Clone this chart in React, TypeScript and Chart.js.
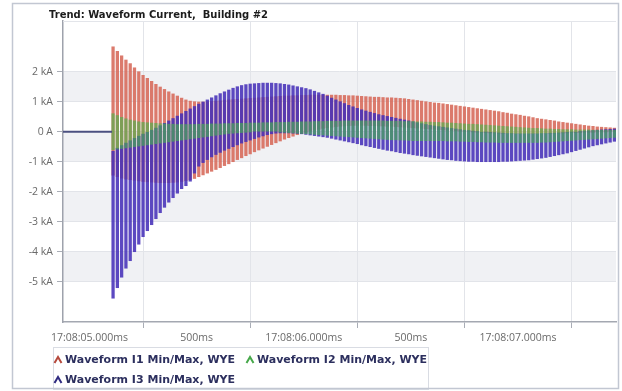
import { useEffect, useRef } from "react";
import { Chart, registerables } from "chart.js";

Chart.register(...registerables);

const titleText = "Trend: Waveform Current,  Building #2";
const seriesNames = ["Waveform I1 Min/Max, WYE", "Waveform I2 Min/Max, WYE", "Waveform I3 Min/Max, WYE"];
const seriesColors = ["rgba(214,104,88,0.88)", "rgba(70,182,74,0.62)", "rgba(70,48,184,0.88)"];
const legendMarkColors = ["#b5493c", "#46a84a", "#2f2a80"];
// drawing order: lower = on top
const seriesOrder = [3, 1, 2];

// sampling of the min/max buckets (seconds after 17:08:00)
const sampleStart = 5.11;
const sampleStep = 0.02;

// pre-fault flat line (seconds, kA)
const preFaultTimes = [4.8763, 5.105];
const preFaultValues = [0, 0];

// I1 min/max (kA)
const i1Max = [
  2.83, 2.68, 2.53, 2.39, 2.27, 2.13, 2.0, 1.88, 1.78, 1.68,
  1.58, 1.49, 1.41, 1.33, 1.26, 1.19, 1.12, 1.06, 1.02, 1.0,
  0.99, 0.99, 1.0, 1.01, 1.02, 1.03, 1.05, 1.06, 1.07, 1.08,
  1.09, 1.1, 1.11, 1.12, 1.13, 1.14, 1.15, 1.16, 1.17, 1.18,
  1.19, 1.19, 1.2, 1.2, 1.21, 1.21, 1.22, 1.22, 1.22, 1.22,
  1.22, 1.22, 1.22, 1.21, 1.21, 1.2, 1.2, 1.19, 1.18, 1.17,
  1.16, 1.15, 1.15, 1.14, 1.13, 1.13, 1.12, 1.11, 1.1, 1.08,
  1.06, 1.04, 1.02, 1.0, 0.98, 0.96, 0.95, 0.93, 0.91, 0.89,
  0.87, 0.85, 0.83, 0.81, 0.79, 0.77, 0.75, 0.73, 0.71, 0.69,
  0.67, 0.64, 0.62, 0.59, 0.57, 0.55, 0.52, 0.5, 0.47, 0.44,
  0.42, 0.4, 0.38, 0.36, 0.33, 0.31, 0.29, 0.27, 0.25, 0.23,
  0.21, 0.19, 0.18, 0.16, 0.15, 0.14, 0.13, 0.12,
];
const i1Min = [
  -1.45, -1.5, -1.55, -1.58, -1.6, -1.62, -1.64, -1.66, -1.67, -1.68,
  -1.69, -1.7, -1.7, -1.7, -1.69, -1.68, -1.66, -1.63, -1.6, -1.56,
  -1.5, -1.44, -1.38, -1.32, -1.26, -1.2, -1.13, -1.07, -1.0, -0.93,
  -0.87, -0.8, -0.74, -0.67, -0.61, -0.55, -0.49, -0.43, -0.37, -0.31,
  -0.25, -0.2, -0.15, -0.1, -0.06, -0.02, 0.02, 0.05, 0.08, 0.11,
  0.13, 0.15, 0.17, 0.18, 0.19, 0.2, 0.21, 0.21, 0.21, 0.21,
  0.2, 0.2, 0.19, 0.19, 0.18, 0.18, 0.17, 0.16, 0.15, 0.14,
  0.13, 0.12, 0.11, 0.1, 0.09, 0.08, 0.07, 0.06, 0.05, 0.04,
  0.03, 0.02, 0.01, 0.0, -0.01, -0.02, -0.03, -0.03, -0.04, -0.04,
  -0.05, -0.05, -0.05, -0.06, -0.06, -0.06, -0.06, -0.06, -0.06, -0.06,
  -0.05, -0.05, -0.05, -0.05, -0.04, -0.04, -0.04, -0.03, -0.03, -0.03,
  -0.02, -0.02, -0.02, -0.01, -0.01, -0.01, 0.0, 0.0,
];

// I2 min/max (kA)
const i2Max = [
  0.6, 0.54, 0.48, 0.43, 0.39, 0.36, 0.33, 0.31, 0.3, 0.29,
  0.28, 0.27, 0.26, 0.25, 0.25, 0.24, 0.24, 0.24, 0.24, 0.24,
  0.25, 0.25, 0.25, 0.26, 0.26, 0.26, 0.27, 0.27, 0.27, 0.28,
  0.28, 0.28, 0.29, 0.29, 0.29, 0.3, 0.3, 0.3, 0.31, 0.31,
  0.31, 0.32, 0.32, 0.32, 0.33, 0.33, 0.33, 0.34, 0.34, 0.34,
  0.35, 0.35, 0.35, 0.35, 0.36, 0.36, 0.36, 0.36, 0.36, 0.36,
  0.36, 0.36, 0.36, 0.36, 0.35, 0.35, 0.35, 0.35, 0.34, 0.34,
  0.34, 0.33, 0.33, 0.32, 0.32, 0.31, 0.31, 0.3, 0.29, 0.29,
  0.28, 0.27, 0.26, 0.25, 0.25, 0.24, 0.23, 0.22, 0.21, 0.2,
  0.19, 0.18, 0.17, 0.16, 0.15, 0.14, 0.13, 0.12, 0.11, 0.11,
  0.1, 0.09, 0.09, 0.08, 0.08, 0.07, 0.07, 0.07, 0.06, 0.06,
  0.06, 0.06, 0.05, 0.05, 0.05, 0.05, 0.05, 0.05,
];
const i2Min = [
  -0.6, -0.58, -0.56, -0.54, -0.52, -0.5, -0.48, -0.46, -0.44, -0.42,
  -0.4, -0.38, -0.36, -0.34, -0.32, -0.3, -0.28, -0.26, -0.24, -0.22,
  -0.2, -0.18, -0.16, -0.14, -0.12, -0.1, -0.08, -0.06, -0.05, -0.04,
  -0.03, -0.02, -0.01, 0.0, 0.0, 0.0, 0.0, 0.0, 0.0, -0.01,
  -0.02, -0.03, -0.04, -0.05, -0.06, -0.07, -0.08, -0.09, -0.1, -0.11,
  -0.12, -0.13, -0.14, -0.15, -0.16, -0.17, -0.18, -0.19, -0.2, -0.21,
  -0.22, -0.23, -0.24, -0.25, -0.26, -0.27, -0.27, -0.28, -0.28, -0.29,
  -0.3, -0.3, -0.3, -0.3, -0.3, -0.3, -0.3, -0.3, -0.31, -0.31,
  -0.31, -0.32, -0.32, -0.33, -0.33, -0.34, -0.34, -0.35, -0.35, -0.35,
  -0.36, -0.36, -0.36, -0.36, -0.36, -0.36, -0.36, -0.36, -0.36, -0.36,
  -0.35, -0.35, -0.34, -0.33, -0.32, -0.31, -0.3, -0.29, -0.28, -0.27,
  -0.26, -0.25, -0.24, -0.23, -0.22, -0.21, -0.2, -0.19,
];

// I3 min/max (kA)
const i3Max = [
  -0.65, -0.55, -0.46, -0.38, -0.3, -0.22, -0.15, -0.08, -0.02, 0.05,
  0.12, 0.2, 0.28, 0.36, 0.44, 0.52, 0.6, 0.68, 0.76, 0.84,
  0.92, 0.99, 1.06, 1.13, 1.2, 1.27, 1.33, 1.39, 1.45, 1.5,
  1.54, 1.57, 1.59, 1.6, 1.61, 1.62, 1.62, 1.62, 1.61, 1.6,
  1.58, 1.56, 1.53, 1.5, 1.47, 1.44, 1.4, 1.35, 1.3, 1.25,
  1.19, 1.12, 1.06, 1.0, 0.94, 0.88, 0.83, 0.78, 0.73, 0.69,
  0.65, 0.61, 0.57, 0.54, 0.51, 0.48, 0.45, 0.42, 0.39, 0.36,
  0.33, 0.3, 0.27, 0.24, 0.21, 0.19, 0.17, 0.15, 0.13, 0.11,
  0.09, 0.07, 0.05, 0.04, 0.02, 0.01, 0.0, -0.01, -0.02, -0.03,
  -0.04, -0.05, -0.06, -0.06, -0.07, -0.07, -0.07, -0.07, -0.07, -0.07,
  -0.06, -0.06, -0.05, -0.05, -0.04, -0.03, -0.02, -0.01, 0.0, 0.01,
  0.02, 0.03, 0.04, 0.05, 0.06, 0.07, 0.08, 0.09,
];
const i3Min = [
  -5.55, -5.2, -4.85, -4.55, -4.3, -4.0, -3.75, -3.5, -3.3, -3.1,
  -2.9, -2.7, -2.52, -2.35, -2.2, -2.05, -1.9, -1.8, -1.65, -1.38,
  -1.15, -1.03, -0.93, -0.84, -0.76, -0.69, -0.62, -0.56, -0.5, -0.44,
  -0.38, -0.33, -0.28, -0.23, -0.18, -0.14, -0.1, -0.07, -0.05, -0.04,
  -0.04, -0.04, -0.05, -0.06, -0.07, -0.09, -0.11, -0.13, -0.15, -0.17,
  -0.19, -0.22, -0.25, -0.28, -0.31, -0.34, -0.37, -0.4, -0.44, -0.47,
  -0.5, -0.53, -0.56, -0.59, -0.62, -0.64, -0.67, -0.7, -0.72, -0.74,
  -0.77, -0.79, -0.81, -0.83, -0.85, -0.87, -0.89, -0.91, -0.93, -0.94,
  -0.96, -0.97, -0.98, -0.99, -0.99, -1.0, -1.0, -1.0, -1.0, -1.0,
  -1.0, -0.99, -0.99, -0.98, -0.97, -0.96, -0.95, -0.94, -0.92, -0.9,
  -0.88, -0.86, -0.83, -0.8, -0.77, -0.74, -0.71, -0.67, -0.63, -0.59,
  -0.55, -0.51, -0.47, -0.44, -0.41, -0.38, -0.35, -0.32,
];

const xTickValues = [5.0, 5.5, 6.0, 6.5, 7.0];
const xTickLabels = ["17:08:05.000ms", "500ms", "17:08:06.000ms", "500ms", "17:08:07.000ms"];
const yTickValues = [-5, -4, -3, -2, -1, 0, 1, 2];
const yTickLabels = ["-5 kA", "-4 kA", "-3 kA", "-2 kA", "-1 kA", "0 A", "1 kA", "2 kA"];
const shadedBands = [[1, 2], [-1, 0], [-3, -2], [-5, -4]];

const xRange = [4.8763, 7.4574];
const yRange = [-6.343, 3.69];

export default function App() {
  const canvasRef = useRef<HTMLCanvasElement | null>(null);

  useEffect(() => {
    document.body.style.margin = "0";
    const canvas = canvasRef.current;
    if (!canvas) return;

    const times = i1Max.map((_, i) => +(sampleStart + i * sampleStep).toFixed(4));
    const mins = [i1Min, i2Min, i3Min];
    const maxs = [i1Max, i2Max, i3Max];

    const barSets = seriesNames.map((name, s) => ({
      type: "bar" as const,
      label: name,
      data: times.map((t, i) => ({ x: t, y: [mins[s][i], maxs[s][i]] })),
      backgroundColor: seriesColors[s],
      borderWidth: 0,
      grouped: false,
      barThickness: 2.6,
      maxBarThickness: 2.6,
      order: seriesOrder[s],
    }));

    const decor = {
      id: "decor",
      beforeDraw(chart: any) {
        const { ctx, chartArea, scales } = chart;
        ctx.save();
        ctx.fillStyle = "#ffffff";
        ctx.fillRect(0, 0, chart.width, chart.height);
        ctx.fillStyle = "#f0f1f4";
        for (const [a, b] of shadedBands) {
          const y1 = scales.y.getPixelForValue(b);
          const y2 = scales.y.getPixelForValue(a);
          ctx.fillRect(chartArea.left, y1, chartArea.right - chartArea.left, y2 - y1);
        }
        ctx.restore();
      },
      afterDraw(chart: any) {
        const { ctx, chartArea } = chart;
        ctx.save();
        ctx.strokeStyle = "#e3e5ea";
        ctx.lineWidth = 1;
        ctx.beginPath();
        ctx.moveTo(chartArea.left, chartArea.top + 0.5);
        ctx.lineTo(chartArea.right, chartArea.top + 0.5);
        ctx.stroke();
        ctx.fillStyle = "#1c1c1c";
        ctx.font = "bold 10px 'DejaVu Sans'";
        ctx.textBaseline = "middle";
        ctx.textAlign = "left";
        ctx.fillText(titleText, 49, 15);
        ctx.strokeStyle = "#d9dce3";
        ctx.lineWidth = 1;
        ctx.strokeRect(53.5, 347.5, 375, 42);
        const items = [
          { x: 58, y: 360 },
          { x: 250, y: 360 },
          { x: 58, y: 380 },
        ];
        ctx.font = "bold 11px 'DejaVu Sans'";
        items.forEach((it, s) => {
          ctx.strokeStyle = legendMarkColors[s];
          ctx.lineWidth = 2;
          ctx.beginPath();
          ctx.moveTo(it.x - 3.5, it.y + 3);
          ctx.lineTo(it.x, it.y - 3);
          ctx.lineTo(it.x + 3.5, it.y + 3);
          ctx.stroke();
          ctx.fillStyle = "#2c2f5e";
          ctx.fillText(seriesNames[s], it.x + 7, it.y + 0.5);
        });
        ctx.strokeStyle = "#c2c7d2";
        ctx.lineWidth = 1.5;
        ctx.strokeRect(12.5, 3.5, 606, 385);
        ctx.restore();
      },
    };

    const chart = new Chart(canvas, {
      type: "bar",
      data: {
        datasets: [
          ...barSets,
          {
            type: "line" as const,
            label: "pre",
            data: preFaultTimes.map((t, i) => ({ x: t, y: preFaultValues[i] })),
            borderColor: "#4b5080",
            borderWidth: 2,
            pointRadius: 0,
            order: 0,
          },
        ] as any,
      },
      options: {
        responsive: false,
        animation: false,
        layout: { padding: { left: 0, right: 6, top: 21, bottom: 0 } },
        plugins: {
          legend: { display: false },
          tooltip: { enabled: false },
          title: { display: false },
        },
        scales: {
          x: {
            type: "linear",
            min: xRange[0],
            max: xRange[1],
            offset: false,
            afterBuildTicks: (ax: any) => {
              ax.ticks = xTickValues.map((v) => ({ value: v }));
            },
            afterFit: (ax: any) => {
              ax.height = 69;
            },
            ticks: {
              autoSkip: false,
              maxRotation: 0,
              padding: 4,
              color: "#6a6a6a",
              font: { family: "'Open Sans'", size: 10.5 },
              callback: (_v: any, i: number) => xTickLabels[i],
            },
            grid: { color: "#e2e4e9", tickLength: 6, tickColor: "#a9adb6" },
            border: { color: "#a4a8b1", width: 1.5 },
          },
          y: {
            type: "linear",
            min: yRange[0],
            max: yRange[1],
            afterBuildTicks: (ax: any) => {
              ax.ticks = yTickValues.map((v) => ({ value: v }));
            },
            afterFit: (ax: any) => {
              ax.width = 63;
            },
            ticks: {
              padding: 4,
              color: "#6a6a6a",
              font: { family: "'Open Sans'", size: 10.5 },
              callback: (_v: any, i: number) => yTickLabels[i],
            },
            grid: { color: "#e2e4e9", tickLength: 6, tickColor: "#a9adb6" },
            border: { color: "#9ea2ac", width: 1.5 },
          },
        },
      } as any,
      plugins: [decor],
    });

    return () => chart.destroy();
  }, []);

  return (
    <div style={{ position: "fixed", left: 0, top: 0, width: 622, height: 391 }}>
      <canvas ref={canvasRef} width={622} height={391} style={{ width: 622, height: 391, display: "block" }} />
    </div>
  );
}
